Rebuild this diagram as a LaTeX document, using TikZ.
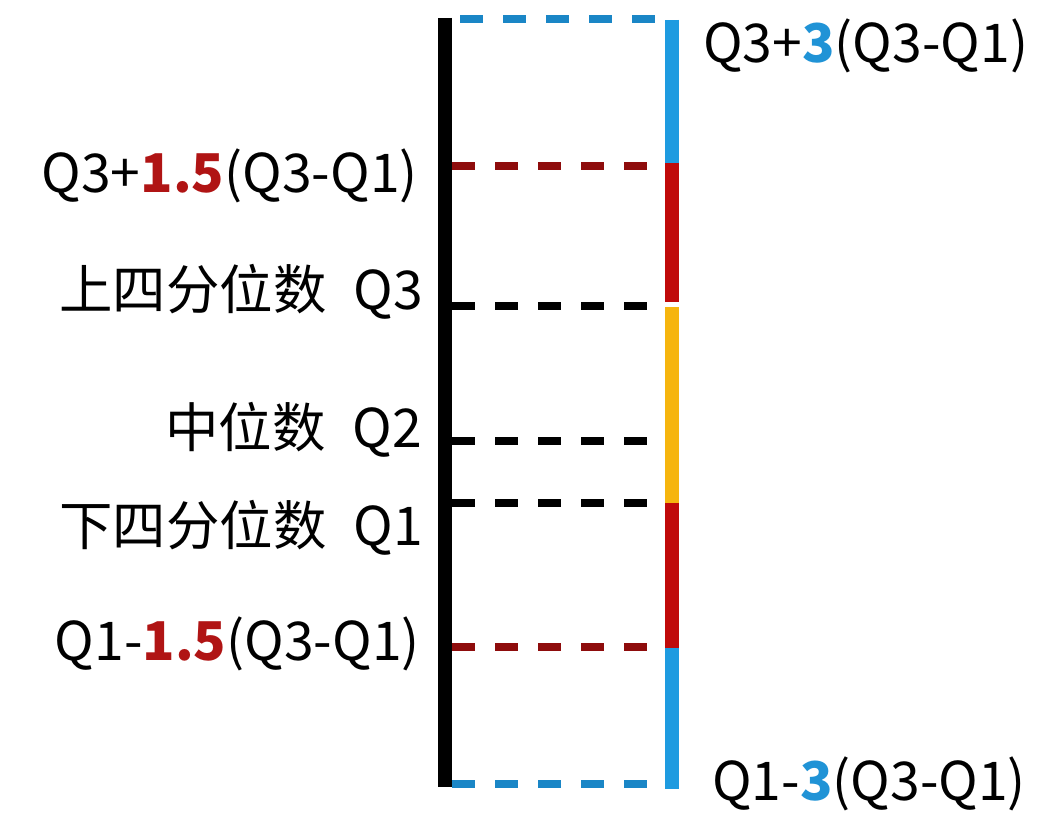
\documentclass[tikz,border=0pt]{standalone}
\usepackage{fontspec}
\setmainfont{Noto Sans CJK SC}
\usepackage{xcolor}
\usetikzlibrary{positioning}
\definecolor{barblue}{HTML}{1E9BE0}
\definecolor{dashblue}{HTML}{1A86C6}
\definecolor{barred}{HTML}{C00A0A}
\definecolor{dashred}{HTML}{8E0C0C}
\definecolor{baryellow}{HTML}{F6B50E}
\definecolor{numred}{HTML}{B01414}
\definecolor{numblue}{HTML}{2093D6}

\begin{document}
\begin{tikzpicture}[x=0.025cm,y=-0.025cm,
    lbl/.style={font=\fontsize{38}{46}\selectfont, inner sep=0pt},
    guide/.style={line width=0.18cm, dash pattern=on 0.575cm off 0.5cm},
    bar/.style={line width=0.34cm}]
        \useasboundingbox (0,0) rectangle (1060,827);
        % left axis
        \coordinate (axtop) at (445,18);
        \coordinate (axbot) at (445,787);
        \draw [bar, black] (axtop) -- (axbot);
        % right bar
        \coordinate (b0) at (672,20);
        \coordinate (b1) at (672,163);
        \coordinate (b2) at (672,302);
        \coordinate (b3) at (672,307);
        \coordinate (b4) at (672,503);
        \coordinate (b5) at (672,648);
        \coordinate (b6) at (672,789);
        \draw [bar, barblue] (b0) -- (b1);
        \draw [bar, barred] (b1) -- (b2);
        \draw [bar, baryellow] (b3) -- (b4);
        \draw [bar, barred] (b4) -- (b5);
        \draw [bar, barblue] (b5) -- (b6);
        % dashed levels
        \coordinate (u3a) at (460,19);  \coordinate (u3b) at (655,19);
        \coordinate (u15a) at (452,166); \coordinate (u15b) at (650,166);
        \coordinate (q3a) at (452,306);  \coordinate (q3b) at (650,306);
        \coordinate (q2a) at (452,441);  \coordinate (q2b) at (650,441);
        \coordinate (q1a) at (452,503);  \coordinate (q1b) at (650,503);
        \coordinate (l15a) at (452,647); \coordinate (l15b) at (650,647);
        \coordinate (l3a) at (452,784);  \coordinate (l3b) at (650,784);
        \draw [guide, dashblue] (u3a) -- (u3b);
        \draw [guide, dashred] (u15a) -- (u15b);
        \draw [guide, black] (q3a) -- (q3b);
        \draw [guide, black] (q2a) -- (q2b);
        \draw [guide, black] (q1a) -- (q1b);
        \draw [guide, dashred] (l15a) -- (l15b);
        \draw [guide, dashblue] (l3a) -- (l3b);
        % labels
        \node [lbl, anchor=base west] (tu3) at (703,63) {Q3+\textbf{\color{numblue}3}(Q3-Q1)};
        \node [lbl, anchor=base east] (tu15) at (418,193) {Q3+\textbf{\color{numred}1.5}(Q3-Q1)};
        \node [lbl, anchor=base east] (tq3) at (423,310) {上四分位数\hspace{0.5em}Q3};
        \node [lbl, anchor=base east] (tq2) at (422,447) {中位数\hspace{0.5em}Q2};
        \node [lbl, anchor=base east] (tq1) at (423,545) {下四分位数\hspace{0.5em}Q1};
        \node [lbl, anchor=base east] (tl15) at (420,660) {Q1-\textbf{\color{numred}1.5}(Q3-Q1)};
        \node [lbl, anchor=base west] (tl3) at (712,800) {Q1-\textbf{\color{numblue}3}(Q3-Q1)};
      \end{tikzpicture}
\end{document}
